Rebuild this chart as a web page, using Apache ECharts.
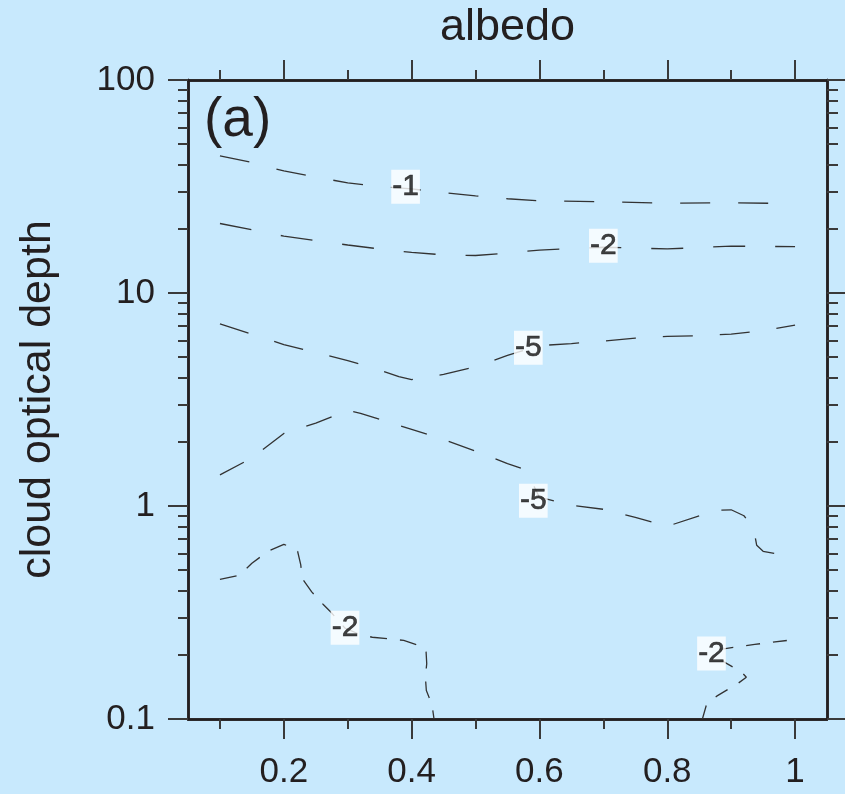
<!DOCTYPE html>
<html><head><meta charset="utf-8">
<script src="https://cdn.jsdelivr.net/npm/echarts@6/dist/echarts.min.js"></script>
<style>html,body{margin:0;padding:0;background:#c8e9fd;} #c{width:845px;height:794px;}</style>
</head><body><div id="c"></div>
<script>
// ---- tick definitions ----
const xMajorTicks = [0.2, 0.4, 0.6, 0.8, 1.0];
const xMinorTicks = [0.1, 0.3, 0.5, 0.7, 0.9];
const yMajorTicks = [0.1, 1, 10, 100];
const yMinorTicks = [0.2, 0.3, 0.4, 0.5, 0.6, 0.7, 0.8, 0.9,
                     2, 3, 4, 5, 6, 7, 8, 9,
                     20, 30, 40, 50, 60, 70, 80, 90];

// ---- contour lines [albedo, cloud optical depth] ----
const contourMinus1 = [[0.1,44.0],[0.15,41.0],[0.2,37.4],[0.25,35.0],[0.3,32.9],[0.35,31.6],[0.4,30.8],[0.45,29.6],[0.5,28.6],[0.55,27.7],[0.6,27.1],[0.7,26.8],[0.8,26.4],[0.9,26.5],[1.0,26.3]];
const contourMinus2Upper = [[0.1,21.2],[0.15,19.8],[0.2,18.5],[0.25,17.6],[0.3,16.8],[0.35,16.1],[0.4,15.5],[0.45,15.1],[0.5,15.0],[0.55,15.4],[0.6,15.9],[0.7,16.4],[0.8,16.1],[0.9,16.6],[1.0,16.5]];
const contourMinus5Upper = [[0.1,7.16],[0.15,6.4],[0.2,5.73],[0.25,5.25],[0.3,4.82],[0.35,4.35],[0.38,4.05],[0.4,3.92],[0.45,4.15],[0.5,4.51],[0.55,5.09],[0.6,5.66],[0.65,5.79],[0.7,5.95],[0.75,6.14],[0.8,6.26],[0.85,6.30],[0.9,6.41],[0.95,6.66],[1.0,7.07]];
const contourMinus5Lower = [[0.1,1.40],[0.15,1.68],[0.2,2.19],[0.25,2.45],[0.3,2.81],[0.32,2.72],[0.35,2.55],[0.4,2.29],[0.45,2.05],[0.5,1.81],[0.55,1.58],[0.575,1.49],[0.585,1.35],[0.6,1.10],[0.65,1.007],[0.7,0.965],[0.75,0.885],[0.8,0.803],[0.85,0.899],[0.88,0.954],[0.9,0.96],[0.92,0.90],[0.935,0.786],[0.94,0.654],[0.95,0.613],[1.0,0.575]];
const contourMinus2LowerLeft = [[0.1,0.452],[0.13,0.473],[0.15,0.538],[0.175,0.613],[0.2,0.661],[0.215,0.633],[0.2215,0.613],[0.2264,0.531],[0.2289,0.456],[0.2436,0.395],[0.2613,0.346],[0.2738,0.317],[0.2957,0.267],[0.318,0.250],[0.3384,0.242],[0.3876,0.234],[0.4182,0.218],[0.4225,0.209],[0.4236,0.182],[0.4215,0.157],[0.423,0.136],[0.4318,0.117],[0.435,0.1]];
const contourMinus2LowerRight = [[0.855,0.1],[0.8617,0.1176],[0.8774,0.128],[0.9108,0.147],[0.9238,0.157],[0.916,0.1666],[0.8785,0.193],[0.8805,0.212],[0.8883,0.2136],[0.937,0.224],[0.989,0.234],[1.0,0.236]];

// ---- contour labels [albedo, depth, text] ----
const contourLabels = [[0.3905,31.5,'-1'],[0.70,16.67,'-2'],[0.5826,5.53,'-5'],[0.5904,1.057,'-5'],[0.2957,0.2685,'-2'],[0.8692,0.2028,'-2']];

const FONT = "'Liberation Sans', Arial, Helvetica, sans-serif";
const INK = '#231f20';
const TICK = '#3a3a3a';

function xAxisDef(pos, ticks, len, showLabel, extra) {
  return Object.assign({
    type: 'value', position: pos, min: 0.05, max: 1.05,
    axisLine: { show: true, onZero: false, lineStyle: { color: INK, width: 2.5 } },
    axisTick: { show: true, inside: false, length: len, customValues: ticks, lineStyle: { color: TICK, width: 2 } },
    axisLabel: showLabel ? { show: true, customValues: ticks, margin: 36, fontSize: 35, color: INK, fontFamily: FONT,
                 formatter: v => String(+v.toFixed(1)) } : { show: false },
    splitLine: { show: false }
  }, extra || {});
}
function yAxisDef(pos, ticks, len, showLabel, extra) {
  return Object.assign({
    type: 'log', logBase: 10, position: pos, min: 0.1, max: 100,
    axisLine: { show: true, onZero: false, lineStyle: { color: INK, width: 2.5 } },
    axisTick: { show: true, inside: false, length: len, customValues: ticks, lineStyle: { color: TICK, width: 2 } },
    axisLabel: showLabel ? { show: true, customValues: ticks, margin: 33, fontSize: 35, color: INK, fontFamily: FONT,
                 formatter: v => String(v) } : { show: false },
    splitLine: { show: false }
  }, extra || {});
}

function contourSeries(data, dash) {
  return {
    type: 'line', data: data, showSymbol: false, symbol: 'none', smooth: false, silent: true,
    lineStyle: { color: '#333333', width: 1.3, type: dash }, z: 3
  };
}

const chart = echarts.init(document.getElementById('c'), null, { renderer: 'canvas' });
chart.setOption({
  animation: false,
  backgroundColor: '#c8e9fd',
  title: { text: '(a)', left: 204, top: 93, padding: 0,
           textStyle: { fontSize: 55, fontWeight: 'normal', color: INK, fontFamily: FONT } },
  grid: { left: 188, top: 79, width: 639, height: 640, containLabel: false },
  xAxis: [
    xAxisDef('bottom', xMajorTicks, 20, true),
    xAxisDef('bottom', xMinorTicks, 10, false),
    xAxisDef('top', xMajorTicks, 20, false, {
      name: 'albedo', nameLocation: 'middle', nameGap: 30,
      nameTextStyle: { fontSize: 45, color: INK, fontFamily: FONT } }),
    xAxisDef('top', xMinorTicks, 10, false)
  ],
  yAxis: [
    yAxisDef('left', yMajorTicks, 20, true, {
      name: 'cloud optical depth', nameLocation: 'middle', nameGap: 128, nameRotate: 90,
      nameTextStyle: { fontSize: 43, color: INK, fontFamily: FONT } }),
    yAxisDef('left', yMinorTicks, 10, false),
    yAxisDef('right', yMajorTicks, 20, false),
    yAxisDef('right', yMinorTicks, 11, false)
  ],
  series: [
    contourSeries(contourMinus1, [30, 28]),
    contourSeries(contourMinus2Upper, [32, 30]),
    contourSeries(contourMinus5Upper, [30, 27]),
    contourSeries(contourMinus5Lower, [27, 23]),
    contourSeries(contourMinus2LowerLeft, [17, 13]),
    contourSeries(contourMinus2LowerRight, [14, 13]),
    {
      type: 'scatter', data: contourLabels, symbolSize: 1, silent: true, z: 10,
      itemStyle: { color: 'rgba(0,0,0,0)' },
      label: { show: true, position: 'inside', formatter: p => p.value[2],
               backgroundColor: '#ffffff', padding: [2, 1, 2, 1], fontSize: 30, lineHeight: 30,
               color: '#111111', textBorderColor: '#111111', textBorderWidth: 0.6, fontFamily: FONT }
    }
  ]
});
</script>
</body></html>
